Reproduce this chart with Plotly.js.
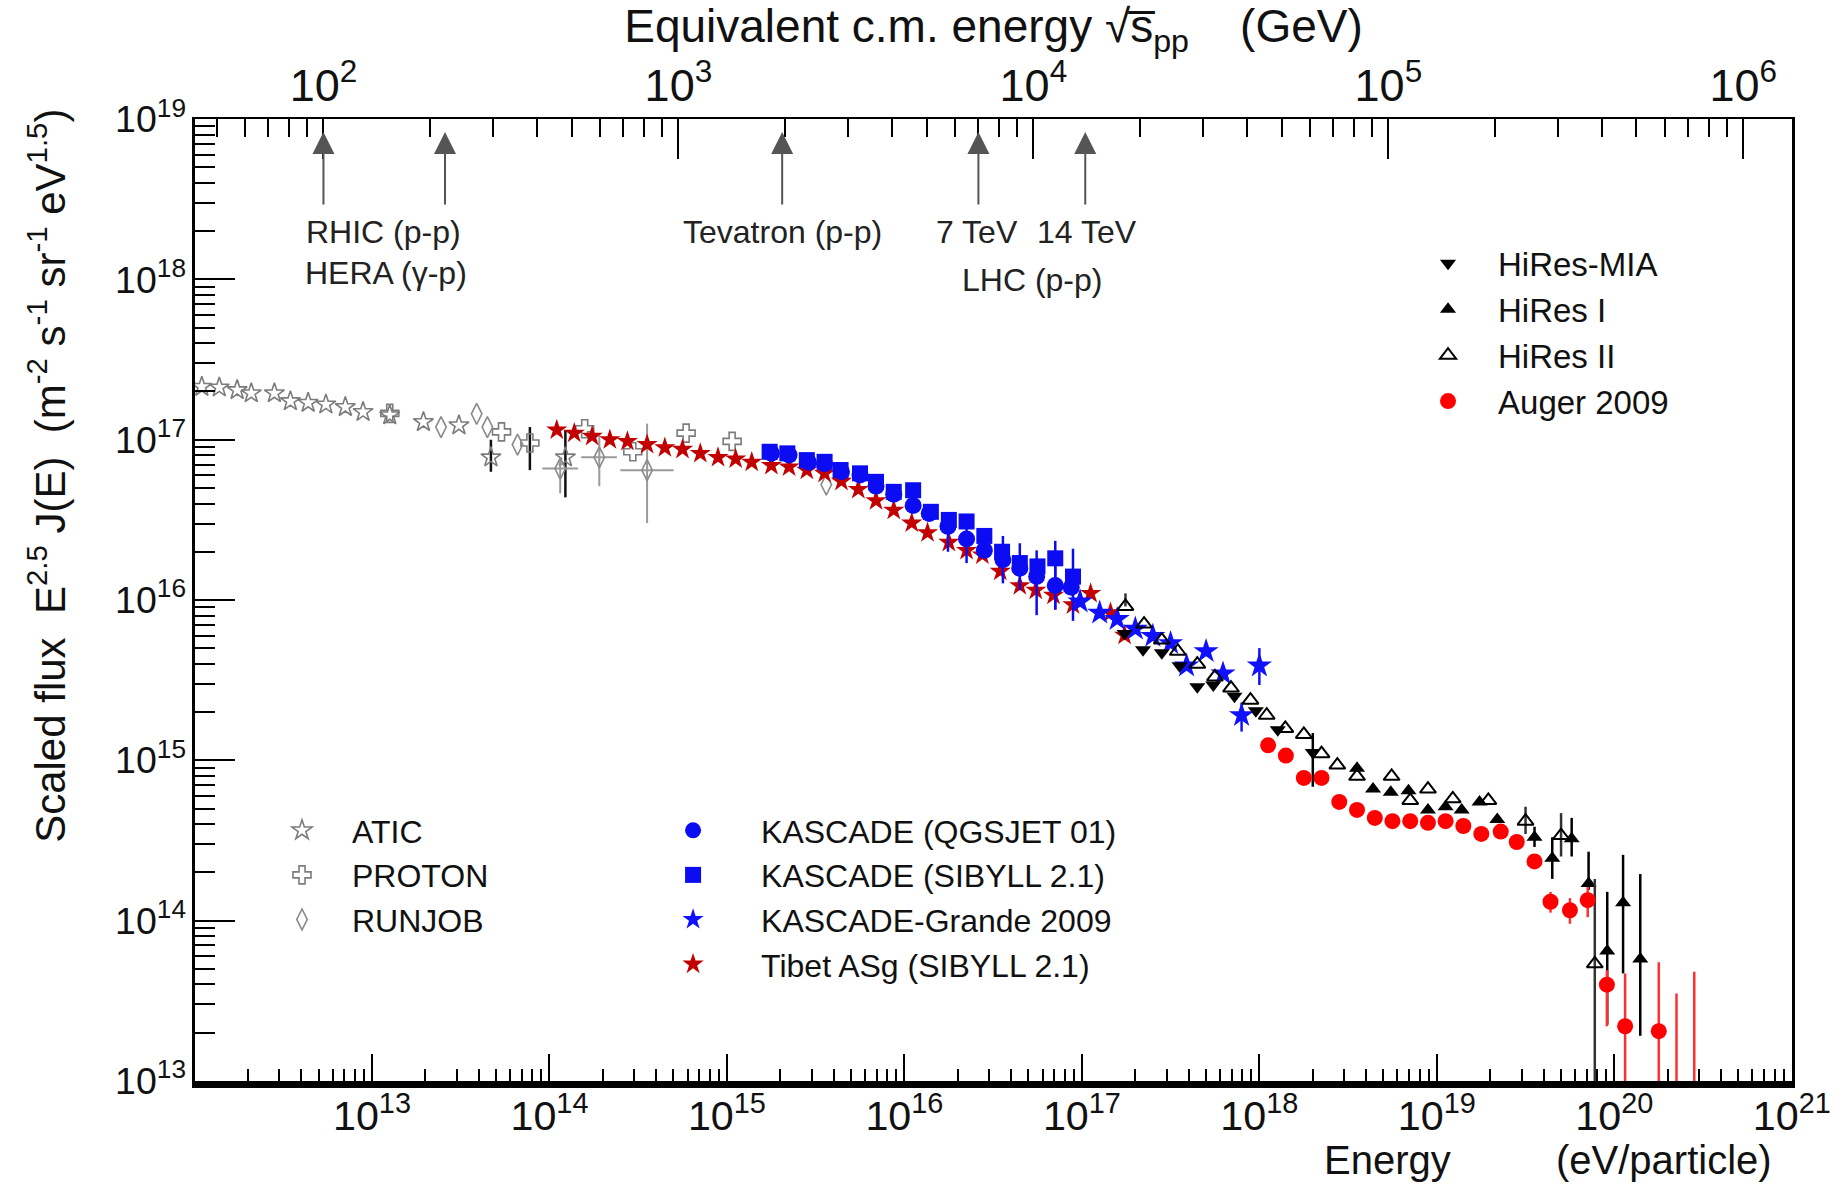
<!DOCTYPE html>
<html><head><meta charset="utf-8">
<script src="https://cdn.plot.ly/plotly-3.0.1.min.js"></script>
<style>html,body{margin:0;padding:0;background:#fff}#chart{width:1843px;height:1186px}</style>
</head><body><div id="chart"></div>
<script>
// ---------------- DATA (energy in eV, scaled flux E^2.5 J(E)) ----------------
const atic_E   = [1.10e12, 1.38e12, 1.74e12, 2.09e12, 2.82e12, 3.47e12, 4.37e12, 5.50e12, 7.08e12, 8.91e12, 1.26e13, 1.95e13, 3.09e13, 4.68e13, 1.23e14];
const atic_F   = [2.14e17, 2.12e17, 2.04e17, 1.95e17, 1.95e17, 1.74e17, 1.70e17, 1.66e17, 1.60e17, 1.49e17, 1.42e17, 1.29e17, 1.23e17, 7.76e16, 7.76e16];
const atic_Fhi = [null, null, null, null, null, null, null, null, null, null, null, null, null, 1.00e17, 1.15e17];
const atic_Flo = [null, null, null, null, null, null, null, null, null, null, null, null, null, 6.31e16, 4.37e16];

const proton_E   = [1.26e13, 5.37e13, 7.76e13, 1.58e14, 2.95e14, 5.89e14, 1.07e15];
const proton_F   = [1.46e17, 1.12e17, 9.55e16, 1.17e17, 8.41e16, 1.10e17, 9.77e16];
const proton_Fhi = [null, null, 1.20e17, null, null, null, null];
const proton_Flo = [null, null, 6.46e16, null, null, null, null];

const runjob_E   = [2.45e13, 3.89e13, 4.47e13, 6.61e13, 1.15e14, 1.91e14, 3.55e14, 3.63e15];
const runjob_F   = [1.20e17, 1.45e17, 1.20e17, 9.33e16, 6.61e16, 7.76e16, 6.46e16, 5.25e16];
const runjob_Fhi = [null, null, null, null, 7.76e16, 1.10e17, 1.26e17, null];
const runjob_Flo = [null, null, null, null, 4.62e16, 5.13e16, 3.02e16, null];
const runjob_Ehi = [null, null, null, null, 1.45e14, 2.40e14, 5.01e14, null];
const runjob_Elo = [null, null, null, null, 9.12e13, 1.51e14, 2.51e14, null];

const tibet_E = [1.10e14, 1.38e14, 1.74e14, 2.19e14, 2.75e14, 3.55e14, 4.47e14, 5.62e14, 7.08e14, 8.91e14, 1.12e15, 1.38e15, 1.78e15, 2.24e15, 2.82e15, 3.55e15, 4.42e15, 5.50e15, 6.92e15, 8.71e15, 1.10e16, 1.35e16, 1.78e16, 2.24e16, 2.75e16, 3.47e16, 4.47e16, 5.50e16, 6.92e16, 8.91e16, 1.12e17, 1.45e17, 1.74e17];
const tibet_F = [1.15e17, 1.10e17, 1.05e17, 1.00e17, 9.77e16, 9.33e16, 8.91e16, 8.71e16, 8.22e16, 7.76e16, 7.59e16, 7.24e16, 6.92e16, 6.76e16, 6.46e16, 6.17e16, 5.50e16, 4.90e16, 4.17e16, 3.63e16, 3.02e16, 2.63e16, 2.29e16, 2.04e16, 1.91e16, 1.51e16, 1.23e16, 1.15e16, 1.07e16, 9.33e15, 1.10e16, 8.32e15, 6.03e15];

const kqgs_E   = [1.78e15, 2.24e15, 2.88e15, 3.55e15, 4.42e15, 5.62e15, 6.92e15, 8.71e15, 1.12e16, 1.38e16, 1.76e16, 2.24e16, 2.82e16, 3.59e16, 4.47e16, 5.56e16, 7.08e16, 8.71e16];
const kqgs_F   = [8.22e16, 8.04e16, 7.24e16, 7.08e16, 6.31e16, 6.03e16, 5.13e16, 4.57e16, 3.89e16, 3.47e16, 2.88e16, 2.40e16, 2.04e16, 1.78e16, 1.58e16, 1.40e16, 1.23e16, 1.20e16];
const kqgs_Fhi = [null, null, null, null, null, null, null, null, null, null, 3.16e16, 2.88e16, null, 2.51e16, 2.26e16, 2.04e16, 1.78e16, null];
const kqgs_Flo = [null, null, null, null, null, null, null, null, null, null, 2.00e16, 1.70e16, null, 1.27e16, 1.15e16, 8.04e15, 8.71e15, null];

const ksib_E   = [1.74e15, 2.19e15, 2.82e15, 3.55e15, 4.37e15, 5.62e15, 6.92e15, 8.71e15, 1.12e16, 1.41e16, 1.78e16, 2.24e16, 2.82e16, 3.55e16, 4.47e16, 5.62e16, 7.08e16, 8.91e16];
const ksib_F   = [8.41e16, 8.22e16, 7.46e16, 7.28e16, 6.47e16, 6.17e16, 5.46e16, 4.73e16, 4.84e16, 3.55e16, 3.16e16, 3.09e16, 2.51e16, 2.00e16, 1.70e16, 1.62e16, 1.82e16, 1.40e16];
const ksib_Fhi = [null, null, null, null, null, null, null, null, null, null, null, null, null, null, null, null, 2.34e16, 2.09e16];
const ksib_Flo = [null, null, null, null, null, null, null, null, null, null, null, null, null, null, null, null, 8.71e15, 7.41e15];

const grande_E   = [9.77e16, 1.26e17, 1.58e17, 2.00e17, 2.51e17, 3.16e17, 3.89e17, 5.01e17, 6.24e17, 7.94e17, 1.00e18];
const grande_F   = [9.77e15, 8.32e15, 7.59e15, 6.61e15, 5.96e15, 5.37e15, 3.89e15, 4.79e15, 3.47e15, 1.91e15, 3.89e15];
const grande_Fhi = [null, null, null, null, null, null, null, null, null, 2.29e15, 5.01e15];
const grande_Flo = [null, null, null, null, null, null, null, null, null, 1.51e15, 2.95e15];

const mia_E   = [1.74e17, 2.21e17, 2.82e17, 3.55e17, 4.47e17, 5.50e17, 7.24e17, 9.55e17, 1.27e18, 2.00e18];
const mia_F   = [6.17e15, 4.90e15, 4.68e15, 3.89e15, 2.88e15, 2.95e15, 2.51e15, 2.04e15, 1.55e15, 1.12e15];
const mia_Fhi = [null, null, null, null, null, null, null, null, null, 1.48e15];
const mia_Flo = [null, null, null, null, null, null, null, null, null, 6.84e14];

const hires1_E   = [3.55e18, 4.37e18, 5.50e18, 6.92e18, 8.91e18, 1.12e19, 1.38e19, 1.74e19, 2.19e19, 3.55e19, 4.47e19, 5.75e19, 7.16e19, 9.12e19, 1.12e20, 1.40e20];
const hires1_F   = [8.91e14, 6.61e14, 6.31e14, 6.46e14, 4.90e14, 5.13e14, 4.90e14, 5.50e14, 4.27e14, 3.31e14, 2.45e14, 3.24e14, 1.70e14, 6.46e13, 1.29e14, 5.75e13];
const hires1_Fhi = [null, null, null, null, null, null, null, null, null, 3.85e14, 3.31e14, 4.37e14, 2.69e14, 1.51e14, 2.57e14, 1.95e14];
const hires1_Flo = [null, null, null, null, null, null, null, null, null, 2.88e14, 1.82e14, 2.51e14, 1.55e14, 2.24e13, 4.68e13, 1.91e13];

const hires2_E   = [1.76e17, 2.24e17, 2.82e17, 3.47e17, 4.47e17, 5.62e17, 6.92e17, 8.91e17, 1.10e18, 1.40e18, 1.78e18, 2.24e18, 2.75e18, 3.55e18, 5.56e18, 7.08e18, 8.91e18, 1.23e19, 1.95e19, 3.16e19, 5.01e19, 7.76e19];
const hires2_F   = [9.12e15, 7.08e15, 5.62e15, 4.79e15, 3.98e15, 3.31e15, 2.82e15, 2.37e15, 1.91e15, 1.58e15, 1.45e15, 1.10e15, 9.33e14, 7.94e14, 7.94e14, 5.62e14, 6.61e14, 5.75e14, 5.62e14, 4.17e14, 3.39e14, 5.37e13];
const hires2_Fhi = [1.10e16, null, null, null, null, null, null, null, null, null, null, null, null, null, null, null, null, null, null, 5.13e14, 4.68e14, 1.82e14];
const hires2_Flo = [null, null, null, null, null, null, null, null, null, null, null, null, null, null, null, null, null, null, null, 3.47e14, 2.51e14, 1.0e12];

const auger_E   = [1.12e18, 1.41e18, 1.78e18, 2.24e18, 2.82e18, 3.55e18, 4.47e18, 5.62e18, 7.08e18, 8.91e18, 1.12e19, 1.41e19, 1.78e19, 2.29e19, 2.82e19, 3.55e19, 4.37e19, 5.62e19, 7.08e19, 9.08e19, 1.15e20, 1.78e20];
const auger_F   = [1.24e15, 1.07e15, 7.76e14, 7.76e14, 5.50e14, 4.90e14, 4.37e14, 4.17e14, 4.17e14, 4.07e14, 4.17e14, 3.89e14, 3.47e14, 3.59e14, 3.09e14, 2.34e14, 1.31e14, 1.16e14, 1.34e14, 3.98e13, 2.19e13, 2.04e13];
const auger_Fhi = [null, null, null, null, null, null, null, null, null, null, null, null, null, null, null, null, 1.51e14, 1.38e14, 1.62e14, 4.90e13, 4.68e13, 5.50e13];
const auger_Flo = [null, null, null, null, null, null, null, null, null, null, null, null, null, null, null, null, 1.12e14, 9.55e13, 1.05e14, 2.19e13, 1.0e12, 1.0e12];
// Auger upper limits (error bars only, no marker)
const augerLim_E  = [2.24e20, 2.82e20];
const augerLim_Fhi = [3.51e13, 4.79e13];
const augerLim_Flo = [1.0e12, 1.0e12];

// accelerator reference energies (sqrt(s), GeV)
const accel_names  = ['RHIC', 'HERA', 'Tevatron', 'LHC 7 TeV', 'LHC 14 TeV'];
const accel_sqrtS  = [100, 220, 1960, 7000, 14000];
const accel_labels = ['RHIC (p-p)', 'HERA (γ-p)', 'Tevatron (p-p)', '7 TeV', '14 TeV', 'LHC (p-p)'];

const logERange = [12.003, 21.001];
const logFRange = [12.999, 19.001];
const PROTON_MASS_GEV = 0.938;

// ---------------- helpers ----------------
function plus(y, hi) { return y.map((v, i) => hi[i] == null ? 0 : hi[i] - v); }
function minus(y, lo) { return y.map((v, i) => lo[i] == null ? 0 : v - lo[i]); }
function errY(y, hi, lo, color, th) {
  return {type: 'data', symmetric: false, array: plus(y, hi), arrayminus: minus(y, lo),
          color: color, thickness: th || 2.5, width: 0};
}
const FONT = 'Liberation Sans, Arial, Helvetica, sans-serif';
const GRAY = '#7c7c7c';
const BLUE = '#0c0cf2';

const traces = [
  {name: 'ATIC', x: atic_E, y: atic_F, type: 'scatter', mode: 'markers', legend: 'legend2',
   marker: {symbol: 'star-open', size: 15, color: GRAY, line: {width: 1.6, color: GRAY}},
   error_y: errY(atic_F, atic_Fhi, atic_Flo, '#111', 2.5)},
  {name: 'PROTON', x: proton_E, y: proton_F, type: 'scatter', mode: 'markers', legend: 'legend2',
   marker: {symbol: 'cross-open', size: 15, color: GRAY, line: {width: 1.6, color: GRAY}},
   error_y: errY(proton_F, proton_Fhi, proton_Flo, '#111', 2.5)},
  {name: 'RUNJOB', x: runjob_E, y: runjob_F, type: 'scatter', mode: 'markers', legend: 'legend2',
   marker: {symbol: 'diamond-tall-open', size: 15, color: '#8a8a8a', line: {width: 1.6, color: '#8a8a8a'}},
   error_y: errY(runjob_F, runjob_Fhi, runjob_Flo, '#9a9a9a', 2),
   error_x: {type: 'data', symmetric: false, array: plus(runjob_E, runjob_Ehi), arrayminus: minus(runjob_E, runjob_Elo), color: '#9a9a9a', thickness: 2, width: 0}},
  {name: 'Tibet ASg (SIBYLL 2.1)', x: tibet_E, y: tibet_F, type: 'scatter', mode: 'markers', legend: 'legend3', legendrank: 1004,
   marker: {symbol: 'star', size: 16, color: '#c20000'}},
  {name: 'KASCADE (QGSJET 01)', x: kqgs_E, y: kqgs_F, type: 'scatter', mode: 'markers', legend: 'legend3', legendrank: 1001,
   marker: {symbol: 'circle', size: 17, color: BLUE},
   error_y: errY(kqgs_F, kqgs_Fhi, kqgs_Flo, BLUE, 2.5)},
  {name: 'KASCADE (SIBYLL 2.1)', x: ksib_E, y: ksib_F, type: 'scatter', mode: 'markers', legend: 'legend3', legendrank: 1002,
   marker: {symbol: 'square', size: 16, color: BLUE},
   error_y: errY(ksib_F, ksib_Fhi, ksib_Flo, BLUE, 2.5)},
  {name: 'KASCADE-Grande 2009', x: grande_E, y: grande_F, type: 'scatter', mode: 'markers', legend: 'legend3', legendrank: 1003,
   marker: {symbol: 'star', size: 19, color: '#1010ff'},
   error_y: errY(grande_F, grande_Fhi, grande_Flo, '#1010ff', 2.5)},
  {name: 'HiRes-MIA', x: mia_E, y: mia_F, type: 'scatter', mode: 'markers', legend: 'legend',
   marker: {symbol: 'triangle-down', size: 14, color: '#000'},
   error_y: errY(mia_F, mia_Fhi, mia_Flo, '#000', 2.5)},
  {name: 'HiRes I', x: hires1_E, y: hires1_F, type: 'scatter', mode: 'markers', legend: 'legend',
   marker: {symbol: 'triangle-up', size: 14, color: '#000'},
   error_y: errY(hires1_F, hires1_Fhi, hires1_Flo, '#000', 2.5)},
  {name: 'HiRes II', x: hires2_E, y: hires2_F, type: 'scatter', mode: 'markers', legend: 'legend',
   marker: {symbol: 'triangle-up-open', size: 14, color: '#000', line: {width: 2, color: '#000'}},
   error_y: errY(hires2_F, hires2_Fhi, hires2_Flo, '#333', 2.5)},
  {name: 'Auger 2009', x: auger_E, y: auger_F, type: 'scatter', mode: 'markers', legend: 'legend',
   marker: {symbol: 'circle', size: 16, color: '#ff0000'},
   error_y: errY(auger_F, auger_Fhi, auger_Flo, '#ff3030', 2.5)},
  {name: 'Auger 2009 (upper limits)', x: augerLim_E, y: augerLim_Fhi, type: 'scatter', mode: 'markers', showlegend: false,
   marker: {symbol: 'circle', size: 1, color: 'rgba(255,0,0,0)'},
   error_y: errY(augerLim_Fhi, augerLim_Fhi, augerLim_Flo, '#ff3030', 2.5)}
];

// top axis: equivalent pp c.m. energy, sqrt(s) = sqrt(2 m_p E)
const topRange = logERange.map(l => 0.5 * (l - 9 + Math.log10(2 * PROTON_MASS_GEV)));

const annotations = [];
// arrows
accel_sqrtS.forEach(function (s) {
  annotations.push({xref: 'x2', yref: 'paper', x: Math.log10(s), y: 0.9865, text: '', showarrow: true,
    ax: 0, ay: 74, arrowhead: 2, arrowsize: 2.2, arrowwidth: 2, arrowcolor: '#555', standoff: 0, startstandoff: 0});
});
const labelPos = [[0.1183, 0.8825], [0.1196, 0.840], [0.3676, 0.8825], [0.4897, 0.8825], [0.5585, 0.8825], [0.5241, 0.8326]];
accel_labels.forEach(function (t, i) {
  annotations.push({xref: 'paper', yref: 'paper', x: labelPos[i][0], y: labelPos[i][1], text: t, showarrow: false,
    xanchor: 'center', yanchor: 'middle', font: {family: FONT, size: 32, color: '#222'}});
});
annotations.push({xref: 'paper', yref: 'paper', x: -0.0927, y: 0.629, textangle: -90, showarrow: false,
  xanchor: 'center', yanchor: 'middle',
  text: 'Scaled flux  E<sup>2.5</sup> J(E)  (m<sup>-2</sup> s<sup>-1</sup> sr<sup>-1</sup> eV<sup>1.5</sup>)',
  font: {family: FONT, size: 42, color: '#111'}});
annotations.push({xref: 'paper', yref: 'paper', x: 0.7464, y: -0.0821, text: 'Energy', showarrow: false,
  xanchor: 'center', yanchor: 'middle', font: {family: FONT, size: 40, color: '#111'}});
annotations.push({xref: 'paper', yref: 'paper', x: 0.920, y: -0.0821, text: '(eV/particle)', showarrow: false,
  xanchor: 'center', yanchor: 'middle', font: {family: FONT, size: 40, color: '#111'}});

const layout = {
  width: 1843, height: 1186,
  margin: {l: 195, r: 51, t: 119, b: 105, pad: 0},
  paper_bgcolor: '#fff', plot_bgcolor: '#fff',
  font: {family: FONT, color: '#111'},
  xaxis: {type: 'log', range: logERange, showgrid: false, zeroline: false,
    tickmode: 'linear', tick0: 0, dtick: 1, exponentformat: 'power',
    ticks: 'inside', ticklen: 27, tickwidth: 2, tickcolor: '#000', ticklabelstandoff: -6,
    minor: {ticks: 'inside', ticklen: 12, tickwidth: 1.5, tickcolor: '#000', dtick: 'D1', showgrid: false},
    showline: true, linewidth: 7, linecolor: '#000',
    tickfont: {family: FONT, size: 33, color: '#111'}},
  xaxis2: {type: 'log', range: topRange, overlaying: 'x', side: 'top', anchor: 'y', showgrid: false, zeroline: false,
    tickmode: 'linear', tick0: 0, dtick: 1, exponentformat: 'power',
    ticks: 'inside', ticklen: 40, tickwidth: 2, tickcolor: '#000',
    minor: {ticks: 'inside', ticklen: 18, tickwidth: 1.5, tickcolor: '#000', dtick: 'D1', showgrid: false},
    showline: true, linewidth: 2, linecolor: '#000',
    tickfont: {family: FONT, size: 36, color: '#111'},
    title: {text: 'Equivalent c.m. energy √s̅<sub>pp</sub>    (GeV)', font: {family: FONT, size: 46, color: '#111'}, standoff: 8}},
  yaxis: {type: 'log', range: logFRange, showgrid: false, zeroline: false,
    tickmode: 'linear', tick0: 0, dtick: 1, exponentformat: 'power',
    ticks: 'inside', ticklen: 40, tickwidth: 2, tickcolor: '#000',
    minor: {ticks: 'inside', ticklen: 20, tickwidth: 1.5, tickcolor: '#000', dtick: 'D1', showgrid: false},
    showline: true, linewidth: 3, linecolor: '#000', mirror: true,
    tickfont: {family: FONT, size: 30, color: '#111'}},
  legend: {x: 0.7533, y: 0.879, xanchor: 'left', yanchor: 'top', bgcolor: 'rgba(0,0,0,0)',
    font: {family: FONT, size: 33, color: '#111'}, itemwidth: 90, tracegroupgap: 0},
  legend2: {x: 0.0357, y: 0.289, xanchor: 'left', yanchor: 'top', bgcolor: 'rgba(0,0,0,0)',
    font: {family: FONT, size: 32, color: '#111'}, itemwidth: 90, tracegroupgap: 0},
  legend3: {x: 0.2693, y: 0.289, xanchor: 'left', yanchor: 'top', bgcolor: 'rgba(0,0,0,0)',
    font: {family: FONT, size: 32, color: '#111'}, itemwidth: 126, tracegroupgap: 0},
  annotations: annotations
};

Plotly.newPlot('chart', traces, layout, {displayModeBar: false, responsive: false});
</script></body></html>
